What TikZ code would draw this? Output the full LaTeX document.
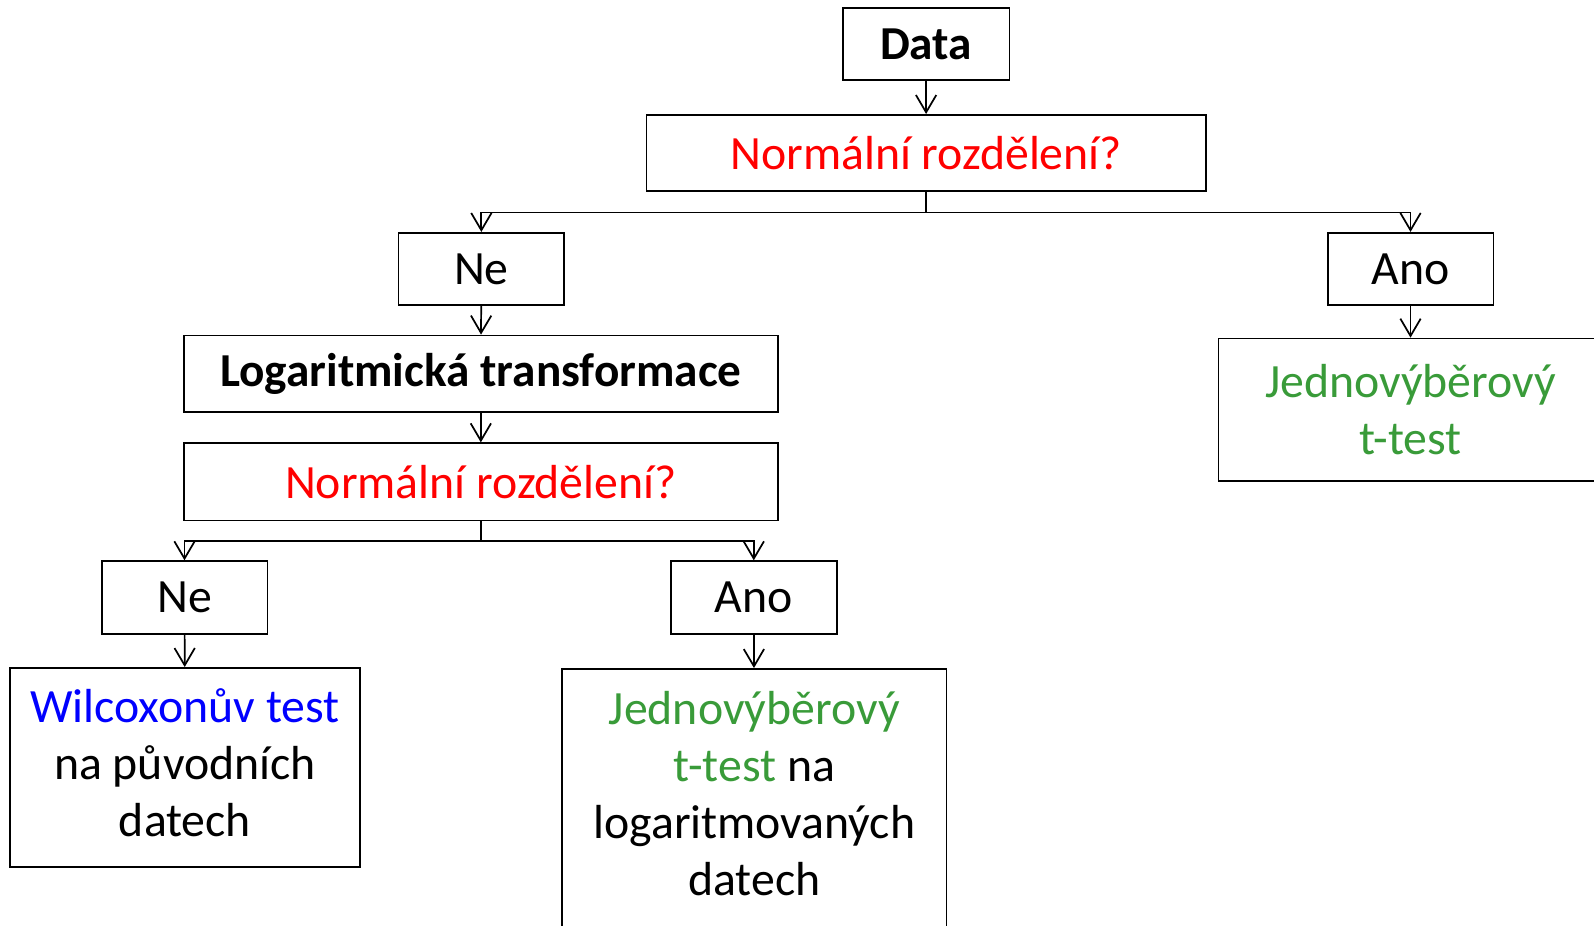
\documentclass[tikz,border=0pt]{standalone}
\usepackage{fontspec}
\setmainfont{Carlito}
\usetikzlibrary{arrows.meta,positioning}
\definecolor{myred}{HTML}{FF0000}
\definecolor{myblue}{HTML}{0000FF}
\definecolor{mygreen}{HTML}{399B39}
\tikzset{
  box/.style={draw=black, line width=1.7pt, inner sep=0pt, align=center,
    font=\fontsize{47}{56}\selectfont},
  boldbox/.style={box, font=\fontsize{46.5}{56}\selectfont\bfseries},
  arr/.style={line width=1.7pt, -{Straight Barb[length=17pt,width=20pt,line width=1.7pt]}},
  link/.style={line width=1.7pt}
}
\begin{document}
\begin{tikzpicture}[x=1pt,y=-1pt]
		%% fixed page size, same as the picture
		\useasboundingbox (0,0) rectangle (1568,910);
		%% first level
		\node[boldbox, minimum width=164pt, minimum height=71pt] (data) at (911,43.5) {Data};
		\node[box, text=myred, minimum width=550pt, minimum height=75pt] (norm1) at (911,150.5) {Normální rozdělení?};
		\node[box, minimum width=163pt, minimum height=71pt] (ne1) at (473.5,264.5) {Ne};
		\node[box, minimum width=163pt, minimum height=71pt] (ano1) at (1387.5,264.5) {Ano};
		\node[box, text=mygreen, minimum width=378pt, minimum height=140pt] (ttest1) at (1387.5,403) {Jednovýběrový\\t-test};
		%% after the transformation
		\node[boldbox, minimum width=584pt, minimum height=75pt] (logtr) at (473,367.5) {Logaritmická transformace};
		\node[box, text=myred, minimum width=584pt, minimum height=76pt] (norm2) at (473,474) {Normální rozdělení?};
		\node[box, minimum width=163pt, minimum height=72pt] (ne2) at (181.5,588) {Ne};
		\node[box, minimum width=163pt, minimum height=72pt] (ano2) at (741.5,588) {Ano};
		\node[box, minimum width=344pt, minimum height=196pt] (wilc) at (182,755) {};
		\node[box, draw=none] at (182,750) {\textcolor{myblue}{Wilcoxonův test}\\na původních\\datech};
		%% this box runs off the bottom of the page
		\node[box, minimum width=378pt, minimum height=270pt] (ttest2) at (742,793) {};
		\node[box, draw=none] at (742,781) {\textcolor{mygreen}{Jednovýběrový}\\\textcolor{mygreen}{t-test} na\\logaritmovaných\\datech};
		%% split points
		\coordinate (split1) at (911,209);
		\coordinate (split2) at (473,532);
		%% connectors
		\draw[arr] (data) -- (norm1);
		\draw[link] (norm1.south) -- (split1);
		\draw[arr] (split1) -| (ne1.north);
		\draw[arr] (split1) -| (ano1.north);
		\draw[arr] (ano1) -- (ttest1);
		\draw[arr] (ne1) -- (logtr);
		\draw[arr] (logtr) -- (norm2);
		\draw[link] (norm2.south) -- (split2);
		\draw[arr] (split2) -| (ne2.north);
		\draw[arr] (split2) -| (ano2.north);
		\draw[arr] (ne2) -- (wilc);
		\draw[arr] (ano2) -- (ttest2);
	\end{tikzpicture}
\end{document}
